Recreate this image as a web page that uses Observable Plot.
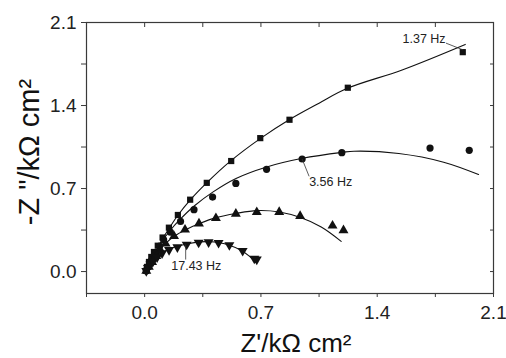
<!DOCTYPE html>
<html>
<head>
<meta charset="utf-8">
<script src="https://cdn.jsdelivr.net/npm/d3@7"></script>
<script src="https://cdn.jsdelivr.net/npm/@observablehq/plot@0.6"></script>
<style>
  html, body { margin: 0; padding: 0; background: #fff; }
  #chart svg { display: block; }
</style>
</head>
<body>
<div id="chart"></div>
<script>
// Measured points (Z', -Z'') in kΩ cm²
const squares = [[0.009,0.007],[0.014,0.039],[0.026,0.081],[0.04,0.123],[0.056,0.165],[0.079,0.218],[0.108,0.287],[0.146,0.37],[0.2,0.477],[0.274,0.606],[0.374,0.748],[0.521,0.932],[0.696,1.125],[0.872,1.28],[1.223,1.55],[1.915,1.85]];
const circles = [[0.01,0.005],[0.025,0.045],[0.045,0.1],[0.07,0.16],[0.09,0.215],[0.114,0.27],[0.155,0.332],[0.216,0.423],[0.297,0.522],[0.409,0.628],[0.549,0.743],[0.734,0.862],[0.948,0.949],[1.187,1.002],[1.718,1.041],[1.954,1.022]];
const trianglesUp = [[0.01,0.005],[0.025,0.04],[0.045,0.08],[0.07,0.13],[0.095,0.18],[0.126,0.235],[0.177,0.298],[0.243,0.353],[0.327,0.405],[0.429,0.45],[0.549,0.487],[0.675,0.501],[0.81,0.502],[0.936,0.468],[1.131,0.387],[1.197,0.348]];
const trianglesDown = [[0.01,0.005],[0.02,0.03],[0.035,0.06],[0.05,0.085],[0.075,0.12],[0.105,0.155],[0.147,0.182],[0.197,0.205],[0.253,0.228],[0.325,0.245],[0.385,0.248],[0.445,0.242],[0.51,0.223],[0.59,0.175],[0.66,0.11],[0.675,0.102]];

// Fitted curves
const fitSquares = [[0.005,0],[0.02,0.04],[0.04,0.1],[0.08,0.2],[0.11,0.28],[0.15,0.37],[0.2,0.475],[0.275,0.605],[0.375,0.75],[0.52,0.935],[0.7,1.125],[0.87,1.28],[1.05,1.42],[1.22,1.545],[1.55,1.70],[1.93,1.915]];
const fitCircles = [[0.005,0],[0.02,0.05],[0.05,0.13],[0.1,0.245],[0.15,0.34],[0.21,0.435],[0.3,0.555],[0.41,0.67],[0.55,0.785],[0.73,0.88],[0.95,0.955],[1.19,1.005],[1.26,1.015],[1.53,0.995],[1.8,0.922],[2.01,0.818]];
const fitTriangles = [[0.005,0],[0.03,0.07],[0.07,0.15],[0.12,0.23],[0.18,0.3],[0.25,0.355],[0.33,0.405],[0.43,0.455],[0.55,0.49],[0.676,0.514],[0.812,0.502],[0.938,0.455],[1.063,0.376],[1.183,0.255]];
const fitTrianglesDown = [[0.005,0],[0.03,0.06],[0.07,0.12],[0.11,0.16],[0.15,0.19],[0.2,0.215],[0.26,0.235],[0.33,0.25],[0.39,0.252],[0.45,0.243],[0.51,0.222],[0.58,0.18],[0.63,0.13],[0.672,0.073]];

// Frequency annotations: label text, label position, leader start/end
const labelText = ["1.37 Hz", "3.56 Hz", "17.43 Hz"];
const labelPos = [[1.682,1.965],[1.12,0.758],[0.311,0.046]];
const leaders = [[1.814,1.926,1.915,1.87],[0.948,0.949,0.99,0.803],[0.247,0.228,0.247,0.101]];

// Axes
const xDomain = [-0.35, 2.1];
const yDomain = [-0.185, 2.1];
const majorTicks = [0, 0.7, 1.4, 2.1];
const xTicks = [-0.35, 0, 0.35, 0.7, 1.05, 1.4, 1.75, 2.1];
const yTicks = [0, 0.35, 0.7, 1.05, 1.4, 1.75, 2.1];
const xTitle = "Z'/kΩ cm²";
const yTitle = "-Z \"/kΩ cm²";

const toObj = a => a.map(([x, y]) => ({x, y}));
const isMajor = d => majorTicks.some(m => Math.abs(m - d) < 1e-9);
const fmt = d => isMajor(d) ? d.toFixed(1) : "";
const ink = "#111";
const axisInk = "#3a3a3a";
const font = "'Liberation Sans', Arial, sans-serif";

const labels = labelText.map((t, i) => ({t, x: labelPos[i][0], y: labelPos[i][1]}));
const leaderData = leaders.map(([x1, y1, x2, y2]) => ({x1, y1, x2, y2}));

const chart = Plot.plot({
  width: 506,
  height: 358,
  marginLeft: 86,
  marginRight: 13,
  marginTop: 22,
  marginBottom: 65,
  style: {fontFamily: font, color: "#222", background: "#fff"},
  x: {domain: xDomain},
  y: {domain: yDomain},
  marks: [
    Plot.frame({stroke: axisInk, strokeWidth: 1.2}),
    Plot.axisX(xTicks, {anchor: "bottom", tickSize: 4, tickPadding: 8, tickFormat: fmt, fontSize: 19, label: null, stroke: axisInk}),
    Plot.axisX(xTicks, {anchor: "top", tickSize: -4, tickFormat: () => "", label: null, stroke: axisInk}),
    Plot.axisY(yTicks, {anchor: "left", tickSize: 5, tickPadding: 5, tickFormat: fmt, fontSize: 19, label: null, stroke: axisInk}),
    Plot.axisY(yTicks, {anchor: "right", tickSize: -4, tickFormat: () => "", label: null, stroke: axisInk}),
    Plot.line(toObj(fitSquares), {x: "x", y: "y", stroke: ink, strokeWidth: 1.1, curve: "catmull-rom"}),
    Plot.line(toObj(fitCircles), {x: "x", y: "y", stroke: ink, strokeWidth: 1.1, curve: "catmull-rom"}),
    Plot.line(toObj(fitTriangles), {x: "x", y: "y", stroke: ink, strokeWidth: 1.1, curve: "catmull-rom"}),
    Plot.line(toObj(fitTrianglesDown), {x: "x", y: "y", stroke: ink, strokeWidth: 1.1, curve: "catmull-rom"}),
    Plot.dot(toObj(squares), {x: "x", y: "y", symbol: "square", r: 3.5, fill: ink, stroke: "none"}),
    Plot.dot(toObj(circles), {x: "x", y: "y", symbol: "circle", r: 3.6, fill: ink, stroke: "none"}),
    Plot.dot(toObj(trianglesUp), {x: "x", y: "y", symbol: "triangle", r: 3.7, fill: ink, stroke: "none"}),
    Plot.dot(toObj(trianglesDown), {x: "x", y: "y", symbol: "triangle", r: 3.7, rotate: 180, fill: ink, stroke: "none"}),
    Plot.link(leaderData, {x1: "x1", y1: "y1", x2: "x2", y2: "y2", stroke: "#333", strokeWidth: 0.8}),
    Plot.text(labels, {x: "x", y: "y", text: "t", fontSize: 12.5, fill: "#222", textAnchor: "middle", lineAnchor: "middle"}),
    Plot.text([xTitle], {frameAnchor: "bottom", text: d => d, textAnchor: "middle", dx: 6, dy: 58, lineAnchor: "bottom", fontSize: 26, fill: "#111"}),
    Plot.text([yTitle], {frameAnchor: "left", text: d => d, textAnchor: "middle", rotate: -90, dx: -48, dy: -6, lineAnchor: "bottom", fontSize: 29, fill: "#111"})
  ]
});
document.getElementById("chart").appendChild(chart);
</script>
</body>
</html>
